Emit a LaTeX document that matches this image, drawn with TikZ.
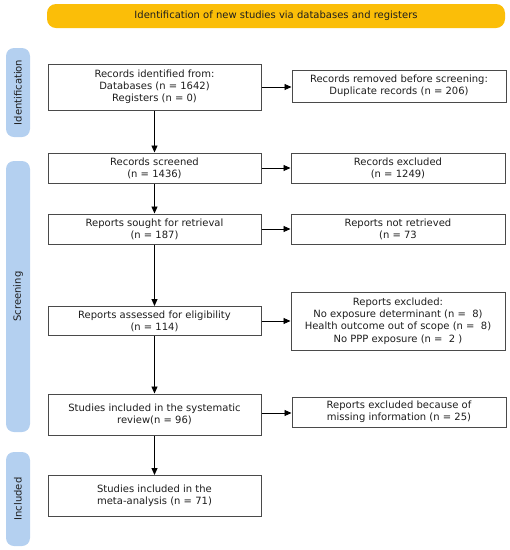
\documentclass[tikz,border=0pt]{standalone}
\usepackage{fontspec}
\setmainfont{DejaVu Sans}
\usetikzlibrary{arrows.meta}
\definecolor{bannery}{HTML}{FBBE08}
\definecolor{sideblue}{HTML}{B4D0F0}
\definecolor{boxline}{HTML}{4A4A4A}
\definecolor{txt}{HTML}{1E1E1E}
\begin{document}
\begin{tikzpicture}[x=1pt,y=1pt,
  every node/.style={font=\fontsize{10}{12.2}\selectfont, text=txt},
  stagebox/.style={draw=boxline, line width=1pt, fill=white, minimum width=213pt, align=center, inner sep=2pt},
  sidelabel/.style={fill=sideblue, rounded corners=8pt, minimum width=24pt, inner sep=0pt},
  arr/.style={line width=0.9pt, -{Triangle[length=7pt,width=6pt]}}]
\useasboundingbox (0,0) rectangle (510,-550);
% banner
\node[fill=bannery, rounded corners=9pt, minimum width=458pt, minimum height=24pt, inner sep=0pt] (ban) at (276,-16) {Identification of new studies via databases and registers};
% side labels
\node[sidelabel, minimum height=89pt] (sid) at (18,-92.5) {};
\node[rotate=90] (sidt) at (sid.center) {Identification};
\node[sidelabel, minimum height=271pt] (sscr) at (18,-296.5) {};
\node[rotate=90] (sscrt) at (sscr.center) {Screening};
\node[sidelabel, minimum height=94pt] (sinc) at (18,-499) {};
\node[rotate=90] (sinct) at (sinc.center) {Included};
% main column
\node[stagebox, minimum height=46pt] (b1) at (154.5,-87) {Records identified from:\\Databases (n = 1642)\\Registers (n = 0)};
\node[stagebox, minimum height=30pt] (b2) at (154.5,-168) {Records screened\\(n = 1436)};
\node[stagebox, minimum height=30pt] (b3) at (154.5,-229) {Reports sought for retrieval\\(n = 187)};
\node[stagebox, minimum height=29pt] (b4) at (154.5,-321) {Reports assessed for eligibility\\(n = 114)};
\node[stagebox, minimum height=41pt] (b5) at (154.5,-414.5) {Studies included in the systematic\\review(n = 96)};
\node[stagebox, minimum height=41pt] (b6) at (154.5,-496) {Studies included in the\\meta-analysis (n = 71)};
% right column
\node[stagebox, minimum width=214pt, minimum height=32pt] (r1) at (399,-86) {Records removed before screening:\\Duplicate records (n = 206)};
\node[stagebox, minimum width=214pt, minimum height=30pt] (r2) at (398,-168) {Records excluded\\(n = 1249)};
\node[stagebox, minimum width=214pt, minimum height=30pt] (r3) at (398,-229) {Reports not retrieved\\(n = 73};
\node[stagebox, minimum width=214pt, minimum height=58pt] (r4) at (398,-321) {Reports excluded:\\No exposure determinant (n =~~8)\\Health outcome out of scope (n =~~8)\\No PPP exposure (n =~~2 )};
\node[stagebox, minimum width=214pt, minimum height=30pt] (r5) at (399,-412) {Reports excluded because of\\missing information (n = 25)};
% vertical arrows
\draw[arr] (b1.south) -- (b2.north);
\draw[arr] (b2.south) -- (b3.north);
\draw[arr] (b3.south) -- (b4.north);
\draw[arr] (b4.south) -- (b5.north);
\draw[arr] (b5.south) -- (b6.north);
% horizontal arrows
\draw[arr] (b1.east) -- (b1.east -| r1.west);
\draw[arr] (b2.east) -- (b2.east -| r2.west);
\draw[arr] (b3.east) -- (b3.east -| r3.west);
\draw[arr] (b4.east) -- (b4.east -| r4.west);
\draw[arr] ([yshift=1.5pt]b5.east) -- ([yshift=1.5pt]b5.east -| r5.west);
\end{tikzpicture}
\end{document}
